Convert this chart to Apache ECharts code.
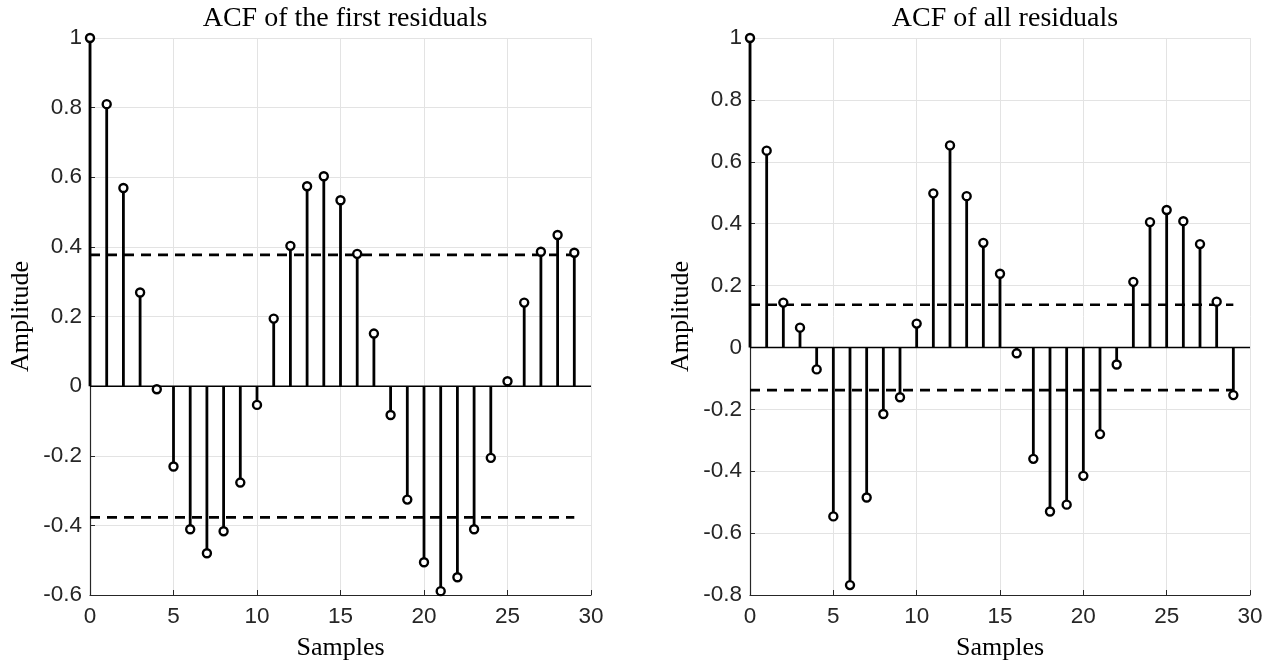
<!DOCTYPE html>
<html><head><meta charset="utf-8">
<script src="https://cdn.jsdelivr.net/npm/echarts@6/dist/echarts.min.js"></script>
<style>html,body{margin:0;padding:0;background:#fff}#c{width:1274px;height:666px}</style>
</head><body><div id="c"></div>
<script>
const lags = [0,1,2,3,4,5,6,7,8,9,10,11,12,13,14,15,16,17,18,19,20,21,22,23,24,25,26,27,28,29];
const acfFirst = [1,0.81,0.569,0.269,-0.009,-0.231,-0.411,-0.48,-0.417,-0.277,-0.054,0.194,0.403,0.574,0.603,0.534,0.38,0.151,-0.083,-0.326,-0.506,-0.589,-0.549,-0.411,-0.206,0.014,0.24,0.386,0.434,0.383];
const acfAll = [1,0.636,0.145,0.064,-0.071,-0.546,-0.768,-0.485,-0.215,-0.161,0.077,0.498,0.653,0.489,0.338,0.238,-0.019,-0.36,-0.53,-0.508,-0.415,-0.28,-0.055,0.212,0.405,0.444,0.408,0.334,0.148,-0.154];
const boundFirst = 0.377;
const boundAll = 0.138;
const titles = ['ACF of the first residuals', 'ACF of all residuals'];
const xName = 'Samples';
const yName = 'Amplitude';
const xRange = [0, 30];
const yRangeFirst = [-0.6, 1];
const yRangeAll = [-0.8, 1];

const chart = echarts.init(document.getElementById('c'));
const tickFont = {fontFamily: 'Liberation Sans', fontSize: 22.5, color: '#262626'};
const nameFont = {fontFamily: 'Liberation Serif', fontSize: 26, color: '#000'};
const titleFont = {fontFamily: 'Liberation Serif', fontSize: 28, color: '#000', fontWeight: 'normal'};

function stemRender(params, api) {
  const x = api.value(0), y = api.value(1);
  const p0 = api.coord([x, 0]), p1 = api.coord([x, y]);
  return {type: 'line', shape: {x1: p0[0], y1: p0[1], x2: p1[0], y2: p1[1]},
          style: {stroke: '#000', lineWidth: 2.8}};
}

function axesFor(i, yr) {
  return {
    x: {gridIndex: i, type: 'value', min: xRange[0], max: xRange[1], interval: 5,
        name: xName, nameLocation: 'middle', nameGap: 40, nameTextStyle: nameFont,
        axisLine: {onZero: false, lineStyle: {color: '#262626', width: 1.2}},
        axisTick: {inside: true, length: 5, lineStyle: {color: '#262626'}},
        axisLabel: Object.assign({margin: 10}, tickFont),
        splitLine: {show: true, lineStyle: {color: '#e3e3e3', width: 1}}},
    y: {gridIndex: i, type: 'value', min: yr[0], max: yr[1], interval: 0.2,
        name: yName, nameLocation: 'middle', nameGap: 56, nameTextStyle: nameFont,
        axisLine: {onZero: false, lineStyle: {color: '#262626', width: 1.2}},
        axisTick: {inside: true, length: 5, lineStyle: {color: '#262626'}},
        axisLabel: Object.assign({margin: 8, formatter: v => String(Math.round(v * 10) / 10)}, tickFont),
        splitLine: {show: true, lineStyle: {color: '#e3e3e3', width: 1}}}
  };
}
const a0 = axesFor(0, yRangeFirst), a1 = axesFor(1, yRangeAll);

function seriesFor(i, vals, bound) {
  const data = lags.map((l, k) => [l, vals[k]]);
  return [
    {type: 'custom', xAxisIndex: i, yAxisIndex: i, renderItem: stemRender, data: data, z: 2, silent: true},
    {type: 'line', xAxisIndex: i, yAxisIndex: i, data: [[xRange[0], 0], [xRange[1], 0]], symbol: 'none',
     lineStyle: {color: '#000', width: 1.5}, z: 3, silent: true},
    {type: 'line', xAxisIndex: i, yAxisIndex: i, data: [[lags[0], bound], [lags[lags.length - 1], bound]], symbol: 'none',
     lineStyle: {color: '#000', width: 2.6, type: [10, 7]}, z: 4, silent: true},
    {type: 'line', xAxisIndex: i, yAxisIndex: i, data: [[lags[0], -bound], [lags[lags.length - 1], -bound]], symbol: 'none',
     lineStyle: {color: '#000', width: 2.6, type: [10, 7]}, z: 4, silent: true},
    {type: 'scatter', xAxisIndex: i, yAxisIndex: i, data: data, symbol: 'circle', symbolSize: 8,
     itemStyle: {color: '#fff', borderColor: '#000', borderWidth: 2.4, opacity: 1}, z: 5, silent: true}
  ];
}

chart.setOption({
  animation: false,
  backgroundColor: '#fff',
  title: [
    {text: titles[0], left: 340, top: 0, textAlign: 'center', textStyle: titleFont},
    {text: titles[1], left: 1000, top: 0, textAlign: 'center', textStyle: titleFont}
  ],
  grid: [
    {left: 90, right: 683, top: 38, bottom: 68},
    {left: 750, right: 24, top: 38, bottom: 68}
  ],
  xAxis: [a0.x, a1.x],
  yAxis: [a0.y, a1.y],
  series: [].concat(seriesFor(0, acfFirst, boundFirst), seriesFor(1, acfAll, boundAll))
});
</script></body></html>
